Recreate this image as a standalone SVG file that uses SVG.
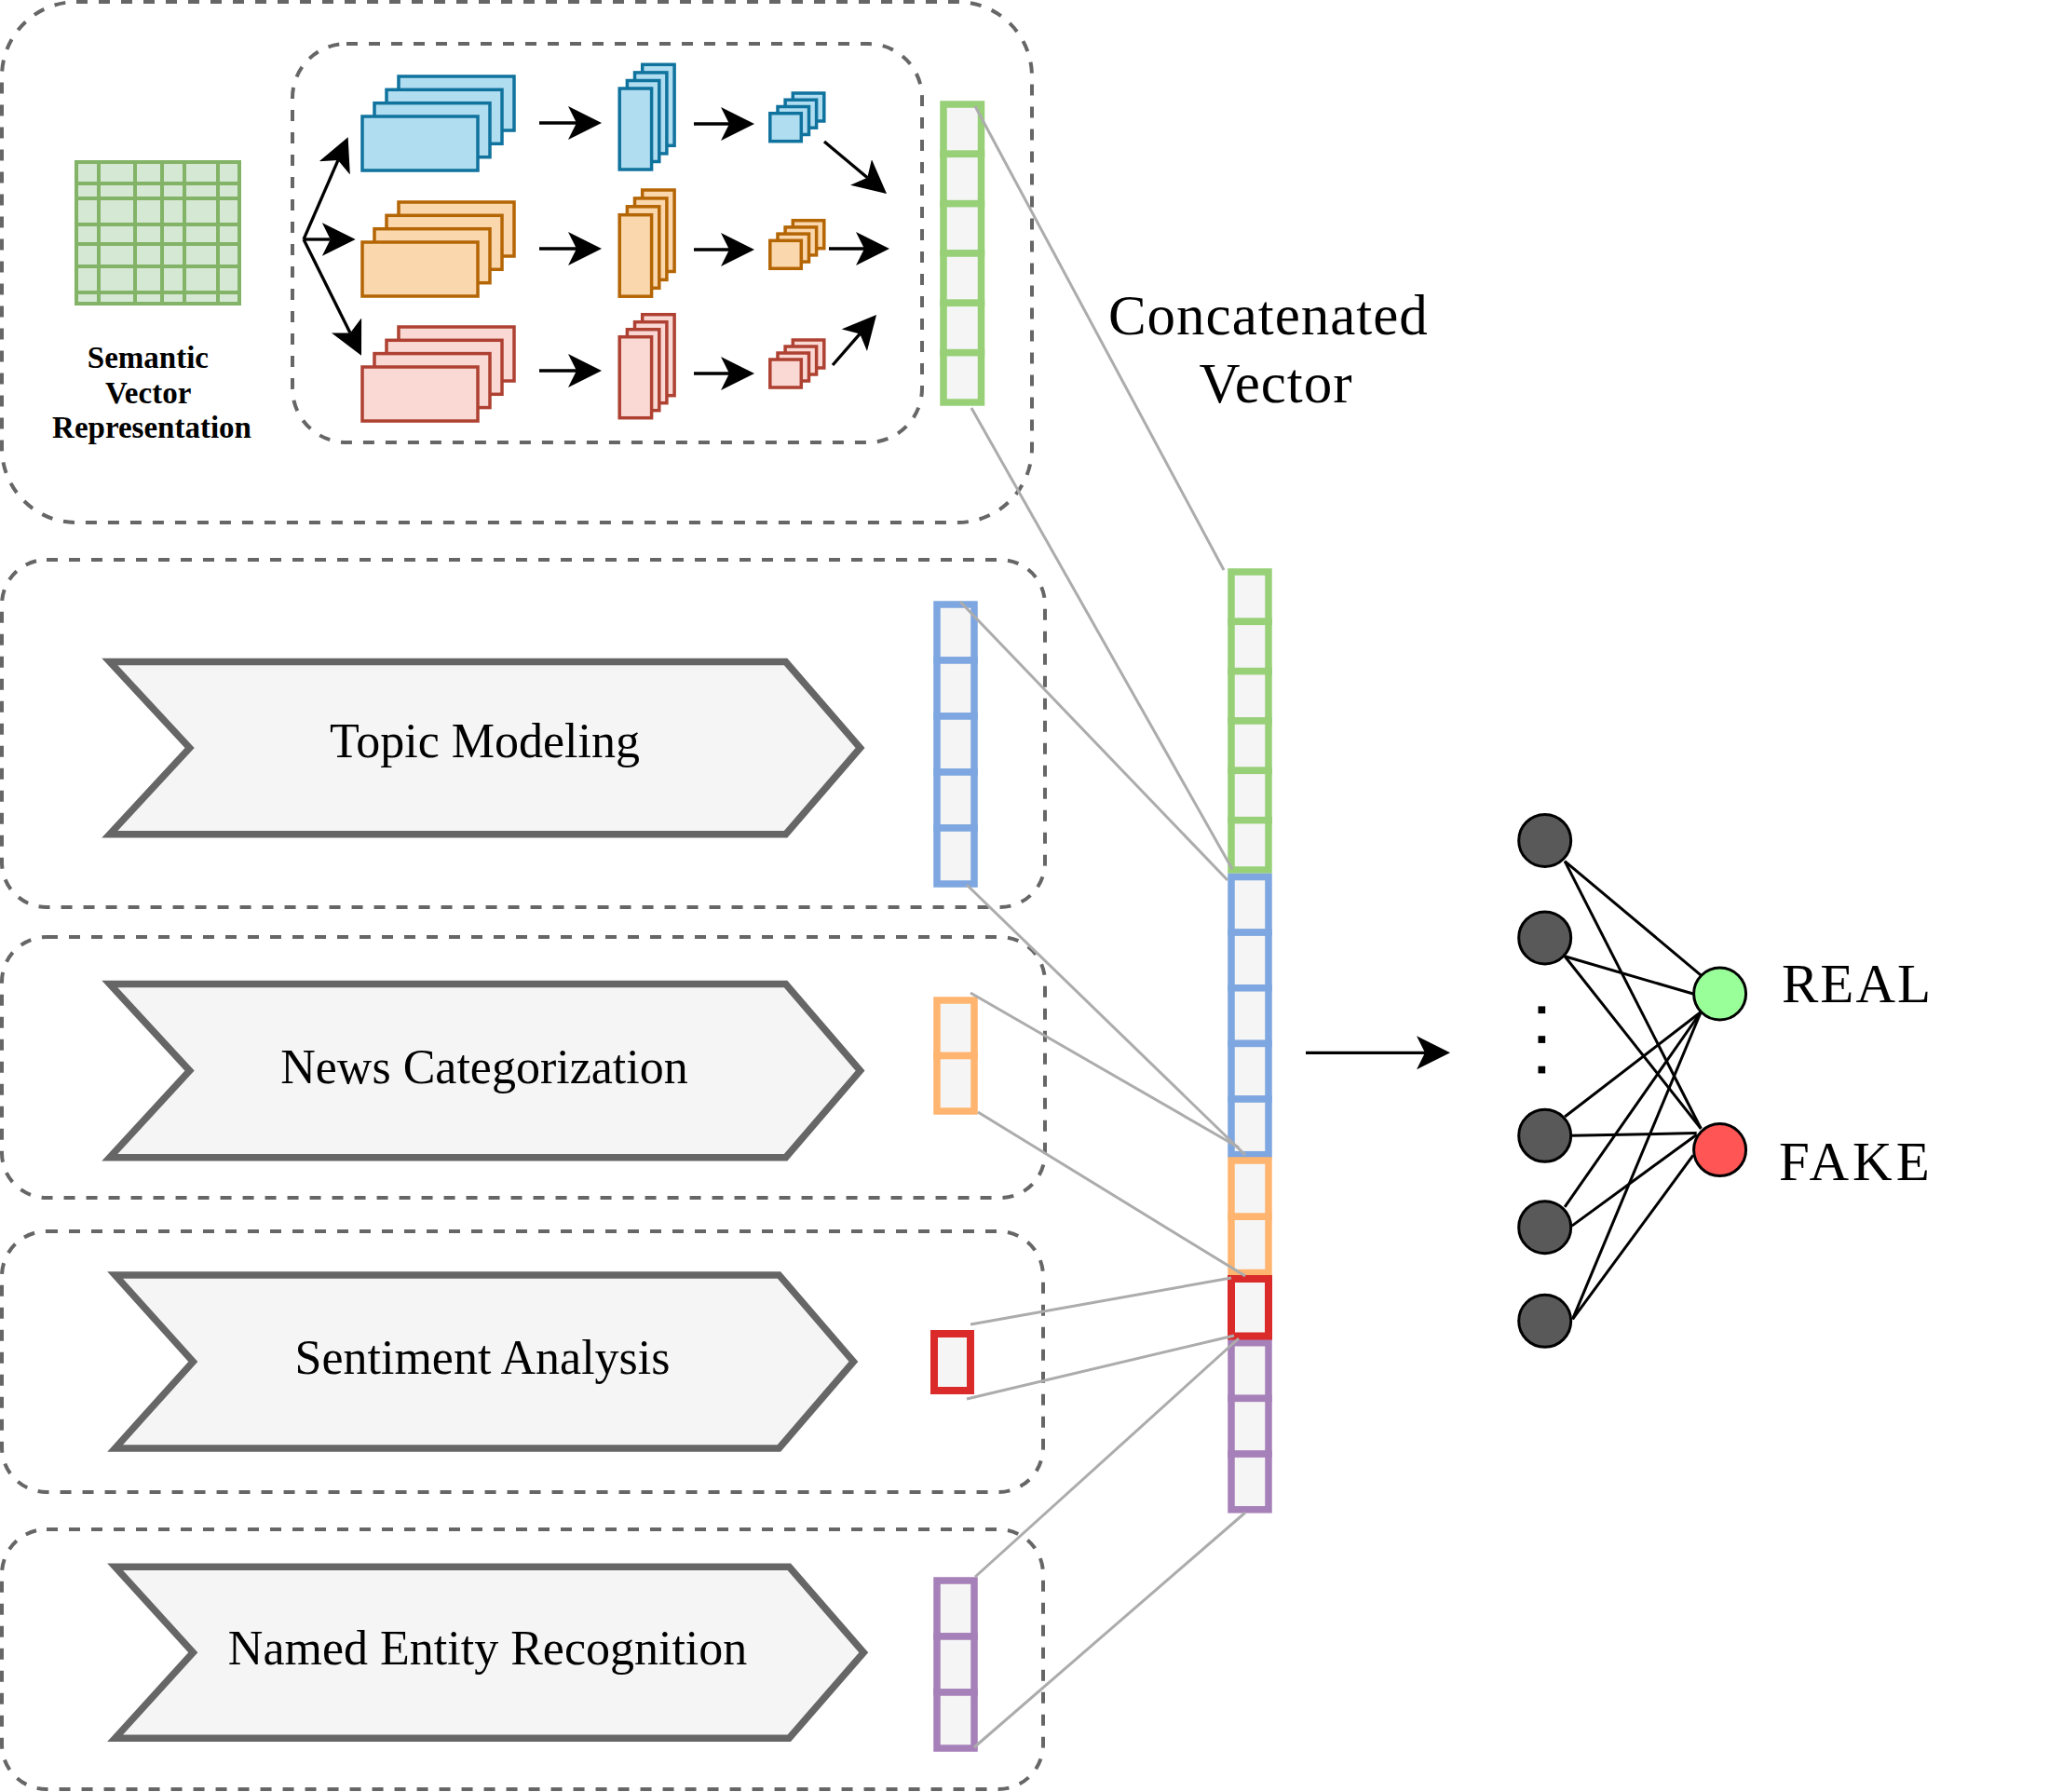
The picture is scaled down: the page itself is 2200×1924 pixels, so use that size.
<svg xmlns="http://www.w3.org/2000/svg" width="2200" height="1924" viewBox="0 0 2200 1924">
<style>
.dash{fill:none;stroke:#666666;stroke-width:4;stroke-dasharray:12 12}
.chev{fill:#f5f5f5;stroke:#666666;stroke-width:7.5;stroke-linejoin:miter}
.lbl{font-family:"Liberation Serif","Times New Roman",serif;font-size:52px;fill:#000000;text-anchor:middle}
.cell{fill:#f5f5f5;stroke-width:7.5}
.cg{stroke:#97d077}.cb{stroke:#7ea6e0}.co{stroke:#ffb570}.cr{stroke:#da2a2a;stroke-width:8}.cp{stroke:#a680b8}
.sb{fill:#b1ddf0;stroke:#10739e;stroke-width:3.5}
.so{fill:#fad7ac;stroke:#b46504;stroke-width:3.5}
.sr{fill:#fad9d5;stroke:#ae4132;stroke-width:3.5}
.grid{fill:#d5e8d4;stroke:#82b366;stroke-width:4}
.gl{stroke:#82b366;stroke-width:4}
.arr{fill:none;stroke:#000000;stroke-width:3.3;marker-end:url(#ah)}
.gray{stroke:#acacac;stroke-width:3;fill:none}
.nn{stroke:#000000;stroke-width:3;fill:none}
.in{fill:#595959;stroke:#000000;stroke-width:3}
</style>
<defs>
<marker id="ah" markerUnits="userSpaceOnUse" viewBox="0 0 36 36" markerWidth="36" markerHeight="36" refX="9" refY="18" orient="auto">
<path d="M0,0 L36,18 L0,36 L9,18 Z" fill="#000000"/>
</marker>
</defs>
<rect width="2200" height="1924" fill="#ffffff"/>

<g id="cnn-container">
<rect class="dash" x="2" y="2" width="1106" height="559" rx="80"/>
</g>
<g id="cnn-inner">
<rect class="dash" x="314" y="47" width="676" height="428" rx="58"/>
</g>
<g id="topic-container"><rect class="dash" x="2" y="601" width="1120" height="373" rx="48"/></g>
<g id="news-container"><rect class="dash" x="2" y="1006" width="1120" height="280" rx="48"/></g>
<g id="sentiment-container"><rect class="dash" x="2" y="1322" width="1118" height="280" rx="48"/></g>
<g id="ner-container"><rect class="dash" x="2" y="1642" width="1118" height="279" rx="48"/></g>

<g id="semantic-grid">
<rect class="grid" x="82" y="174" width="175" height="152"/>
<line class="gl" x1="106" y1="174" x2="106" y2="326"/>
<line class="gl" x1="145" y1="174" x2="145" y2="326"/>
<line class="gl" x1="174" y1="174" x2="174" y2="326"/>
<line class="gl" x1="198" y1="174" x2="198" y2="326"/>
<line class="gl" x1="234" y1="174" x2="234" y2="326"/>
<line class="gl" x1="82" y1="197" x2="257" y2="197"/>
<line class="gl" x1="82" y1="213" x2="257" y2="213"/>
<line class="gl" x1="82" y1="241" x2="257" y2="241"/>
<line class="gl" x1="82" y1="262" x2="257" y2="262"/>
<line class="gl" x1="82" y1="286" x2="257" y2="286"/>
<line class="gl" x1="82" y1="314" x2="257" y2="314"/>
<text font-family="'Liberation Serif','Times New Roman',serif" font-size="33" font-weight="bold" text-anchor="middle">
<tspan x="163" y="395">Semantic</tspan>
<tspan x="163" y="432.7">Vector</tspan>
<tspan x="163" y="470">Representation</tspan>
</text>
</g>

<g id="blue-maps">
<rect class="sb" x="428" y="82" width="124" height="58"/>
<rect class="sb" x="415" y="96.3" width="124" height="58"/>
<rect class="sb" x="402" y="110.7" width="124" height="58"/>
<rect class="sb" x="389" y="125" width="124" height="58"/>
</g>
<g id="orange-maps">
<rect class="so" x="428" y="217" width="124" height="58"/>
<rect class="so" x="415" y="231.3" width="124" height="58"/>
<rect class="so" x="402" y="245.7" width="124" height="58"/>
<rect class="so" x="389" y="260" width="124" height="58"/>
</g>
<g id="red-maps">
<rect class="sr" x="428" y="351" width="124" height="58"/>
<rect class="sr" x="415" y="365.3" width="124" height="58"/>
<rect class="sr" x="402" y="379.6" width="124" height="58"/>
<rect class="sr" x="389" y="394" width="124" height="58"/>
</g>

<g id="blue-pool">
<rect class="sb" x="689.7" y="69.3" width="34.4" height="87"/>
<rect class="sb" x="681.5" y="77.9" width="34.4" height="87"/>
<rect class="sb" x="673.4" y="86.5" width="34.4" height="87"/>
<rect class="sb" x="665.2" y="95" width="34.4" height="87"/>
</g>
<g id="orange-pool">
<rect class="so" x="689.7" y="204" width="34.4" height="87.5"/>
<rect class="so" x="681.5" y="212.9" width="34.4" height="87.5"/>
<rect class="so" x="673.4" y="221.8" width="34.4" height="87.5"/>
<rect class="so" x="665.2" y="230.7" width="34.4" height="87.5"/>
</g>
<g id="red-pool">
<rect class="sr" x="689.7" y="337.7" width="34.4" height="87"/>
<rect class="sr" x="681.5" y="345.7" width="34.4" height="87"/>
<rect class="sr" x="673.4" y="353.7" width="34.4" height="87"/>
<rect class="sr" x="665.2" y="361.7" width="34.4" height="87"/>
</g>

<g id="blue-small">
<rect class="sb" x="851.3" y="100" width="33.5" height="30"/>
<rect class="sb" x="843.1" y="107.2" width="33.5" height="30"/>
<rect class="sb" x="835" y="114.5" width="33.5" height="30"/>
<rect class="sb" x="826.8" y="121.7" width="33.5" height="30"/>
</g>
<g id="orange-small">
<rect class="so" x="851.3" y="236.7" width="33.5" height="30"/>
<rect class="so" x="843.1" y="243.9" width="33.5" height="30"/>
<rect class="so" x="835" y="251.1" width="33.5" height="30"/>
<rect class="so" x="826.8" y="258.3" width="33.5" height="30"/>
</g>
<g id="red-small">
<rect class="sr" x="851.3" y="365" width="33.5" height="30"/>
<rect class="sr" x="843.1" y="372" width="33.5" height="30"/>
<rect class="sr" x="835" y="379" width="33.5" height="30"/>
<rect class="sr" x="826.8" y="386" width="33.5" height="30"/>
</g>

<g id="cnn-vector">
<rect class="cell cg" x="1013" y="112" width="40.5" height="53.33"/>
<rect class="cell cg" x="1013" y="165.33" width="40.5" height="53.33"/>
<rect class="cell cg" x="1013" y="218.67" width="40.5" height="53.33"/>
<rect class="cell cg" x="1013" y="272" width="40.5" height="53.33"/>
<rect class="cell cg" x="1013" y="325.33" width="40.5" height="53.33"/>
<rect class="cell cg" x="1013" y="378.67" width="40.5" height="53.33"/>
</g>

<g id="topic-modeling">
<path class="chev" d="M117.8,710.5 L843.6,710.5 L923.6,803 L843.6,895.8 L117.8,895.8 L203.6,803 Z"/>
<text class="lbl" x="520.5" y="813">Topic Modeling</text>
</g>
<g id="topic-vector">
<rect class="cell cb" x="1006" y="649" width="40" height="60"/>
<rect class="cell cb" x="1006" y="709" width="40" height="60"/>
<rect class="cell cb" x="1006" y="769" width="40" height="60"/>
<rect class="cell cb" x="1006" y="829" width="40" height="60"/>
<rect class="cell cb" x="1006" y="889" width="40" height="60"/>
</g>

<g id="news-categorization">
<path class="chev" d="M117.8,1056.5 L843.6,1056.5 L923.6,1149.6 L843.6,1242.7 L117.8,1242.7 L203.6,1149.6 Z"/>
<text class="lbl" x="520" y="1163">News Categorization</text>
</g>
<g id="news-vector">
<rect class="cell co" x="1006" y="1074" width="40" height="59.5"/>
<rect class="cell co" x="1006" y="1133.5" width="40" height="59.5"/>
</g>

<g id="sentiment-analysis">
<path class="chev" d="M123.6,1368.9 L836.4,1368.9 L916.4,1461.9 L836.4,1554.9 L123.6,1554.9 L207.3,1461.9 Z"/>
<text class="lbl" x="518" y="1475">Sentiment Analysis</text>
</g>
<g id="sentiment-vector">
<rect class="cell cr" x="1003" y="1432" width="39" height="61"/>
</g>

<g id="named-entity-recognition">
<path class="chev" d="M123.6,1682.2 L847.3,1682.2 L927.3,1774.2 L847.3,1866.2 L123.6,1866.2 L207.3,1774.2 Z"/>
<text class="lbl" x="523.6" y="1787">Named Entity Recognition</text>
</g>
<g id="ner-vector">
<rect class="cell cp" x="1006" y="1697" width="40" height="60"/>
<rect class="cell cp" x="1006" y="1757" width="40" height="60"/>
<rect class="cell cp" x="1006" y="1817" width="40" height="60"/>
</g>

<g id="concatenated-vector">
<rect class="cell cg" x="1322" y="614" width="40" height="53.33"/>
<rect class="cell cg" x="1322" y="667.33" width="40" height="53.33"/>
<rect class="cell cg" x="1322" y="720.67" width="40" height="53.33"/>
<rect class="cell cg" x="1322" y="774" width="40" height="53.33"/>
<rect class="cell cg" x="1322" y="827.33" width="40" height="53.33"/>
<rect class="cell cg" x="1322" y="880.67" width="40" height="53.33"/>
<rect class="cell cb" x="1322" y="941.5" width="40" height="59.64"/>
<rect class="cell cb" x="1322" y="1001.14" width="40" height="59.64"/>
<rect class="cell cb" x="1322" y="1060.78" width="40" height="59.64"/>
<rect class="cell cb" x="1322" y="1120.42" width="40" height="59.64"/>
<rect class="cell cb" x="1322" y="1180.06" width="40" height="59.64"/>
<rect class="cell co" x="1322" y="1246" width="40" height="60.25"/>
<rect class="cell co" x="1322" y="1306.25" width="40" height="60.25"/>
<rect class="cell cp" x="1322" y="1441.7" width="40" height="59.7"/>
<rect class="cell cp" x="1322" y="1501.4" width="40" height="59.7"/>
<rect class="cell cp" x="1322" y="1561.1" width="40" height="59.7"/>
<rect class="cell cr" x="1322" y="1373" width="40" height="61.5"/>
</g>
<g id="concatenated-label">
<text font-family="'Liberation Serif','Times New Roman',serif" font-size="61" letter-spacing="1" text-anchor="middle">
<tspan x="1370" y="359.3">Concatenated</tspan>
<tspan x="1370" y="431.7">Vector</tspan>
</text>
</g>

<g id="connectors">
<line class="arr" x1="326" y1="257" x2="362.9" y2="172.1"/>
<line class="arr" x1="326" y1="257" x2="354.7" y2="257"/>
<line class="arr" x1="326" y1="257" x2="376" y2="357.5"/>
<line class="arr" x1="579" y1="132" x2="619" y2="132"/>
<line class="arr" x1="745" y1="133" x2="783" y2="133"/>
<line class="arr" x1="885" y1="152" x2="931.3" y2="190.7"/>
<line class="arr" x1="579" y1="267" x2="619" y2="267"/>
<line class="arr" x1="745" y1="268" x2="783" y2="268"/>
<line class="arr" x1="890" y1="267" x2="928" y2="267"/>
<line class="arr" x1="579" y1="398" x2="619" y2="398"/>
<line class="arr" x1="745" y1="401" x2="783" y2="401"/>
<line class="arr" x1="894" y1="392" x2="923.3" y2="358.4"/>
<line class="gray" x1="1047" y1="114" x2="1314" y2="612"/>
<line class="gray" x1="1043" y1="438" x2="1323" y2="933"/>
<line class="gray" x1="1031" y1="646" x2="1318" y2="945"/>
<line class="gray" x1="1038" y1="950" x2="1337" y2="1240"/>
<line class="gray" x1="1042" y1="1066" x2="1330" y2="1232"/>
<line class="gray" x1="1050" y1="1194" x2="1337" y2="1370"/>
<line class="gray" x1="1042" y1="1422" x2="1322" y2="1372"/>
<line class="gray" x1="1038" y1="1502" x2="1325" y2="1434"/>
<line class="gray" x1="1047" y1="1693" x2="1330" y2="1437"/>
<line class="gray" x1="1046" y1="1876" x2="1337" y2="1624"/>
<line class="arr" x1="1402" y1="1130.3" x2="1530" y2="1130.3"/>
<line class="nn" x1="1680.1" y1="924.6" x2="1826.3" y2="1047.1"/>
<line class="nn" x1="1680.1" y1="924.6" x2="1826.3" y2="1211.7"/>
<line class="nn" x1="1680.1" y1="1026.8" x2="1817.9" y2="1067"/>
<line class="nn" x1="1680.1" y1="1026.8" x2="1826.3" y2="1211.7"/>
<line class="nn" x1="1680.1" y1="1199" x2="1826.3" y2="1086.5"/>
<line class="nn" x1="1687" y1="1219.3" x2="1821.7" y2="1216.6"/>
<line class="nn" x1="1680.1" y1="1295.8" x2="1826.3" y2="1086.5"/>
<line class="nn" x1="1687.8" y1="1316.1" x2="1821.7" y2="1218.2"/>
<line class="nn" x1="1688.5" y1="1416.4" x2="1826.3" y2="1086.5"/>
<line class="nn" x1="1688.5" y1="1416.4" x2="1817.9" y2="1240.4"/>
</g>

<g id="input-1"><circle class="in" cx="1658.7" cy="902.4" r="28"/></g>
<g id="input-2"><circle class="in" cx="1658.7" cy="1006.9" r="28"/></g>
<g id="ellipsis">
<rect x="1651.5" y="1080.4" width="7.7" height="7.7" fill="#000000"/>
<rect x="1651.5" y="1112.2" width="7.7" height="7.7" fill="#000000"/>
<rect x="1651.5" y="1144.7" width="7.7" height="7.7" fill="#000000"/>
</g>
<g id="input-3"><circle class="in" cx="1658.7" cy="1219.3" r="28"/></g>
<g id="input-4"><circle class="in" cx="1658.7" cy="1317.7" r="28"/></g>
<g id="input-5"><circle class="in" cx="1658.7" cy="1418.3" r="28"/></g>
<g id="output-real">
<circle cx="1846.6" cy="1067" r="28" fill="#99ff99" stroke="#000000" stroke-width="3"/>
<text x="1913" y="1076" font-family="'Liberation Serif','Times New Roman',serif" font-size="59" letter-spacing="2">REAL</text>
</g>
<g id="output-fake">
<circle cx="1846.6" cy="1234.6" r="28" fill="#ff5555" stroke="#000000" stroke-width="3"/>
<text x="1910" y="1266.7" font-family="'Liberation Serif','Times New Roman',serif" font-size="59" letter-spacing="4">FAKE</text>
</g>
</svg>
